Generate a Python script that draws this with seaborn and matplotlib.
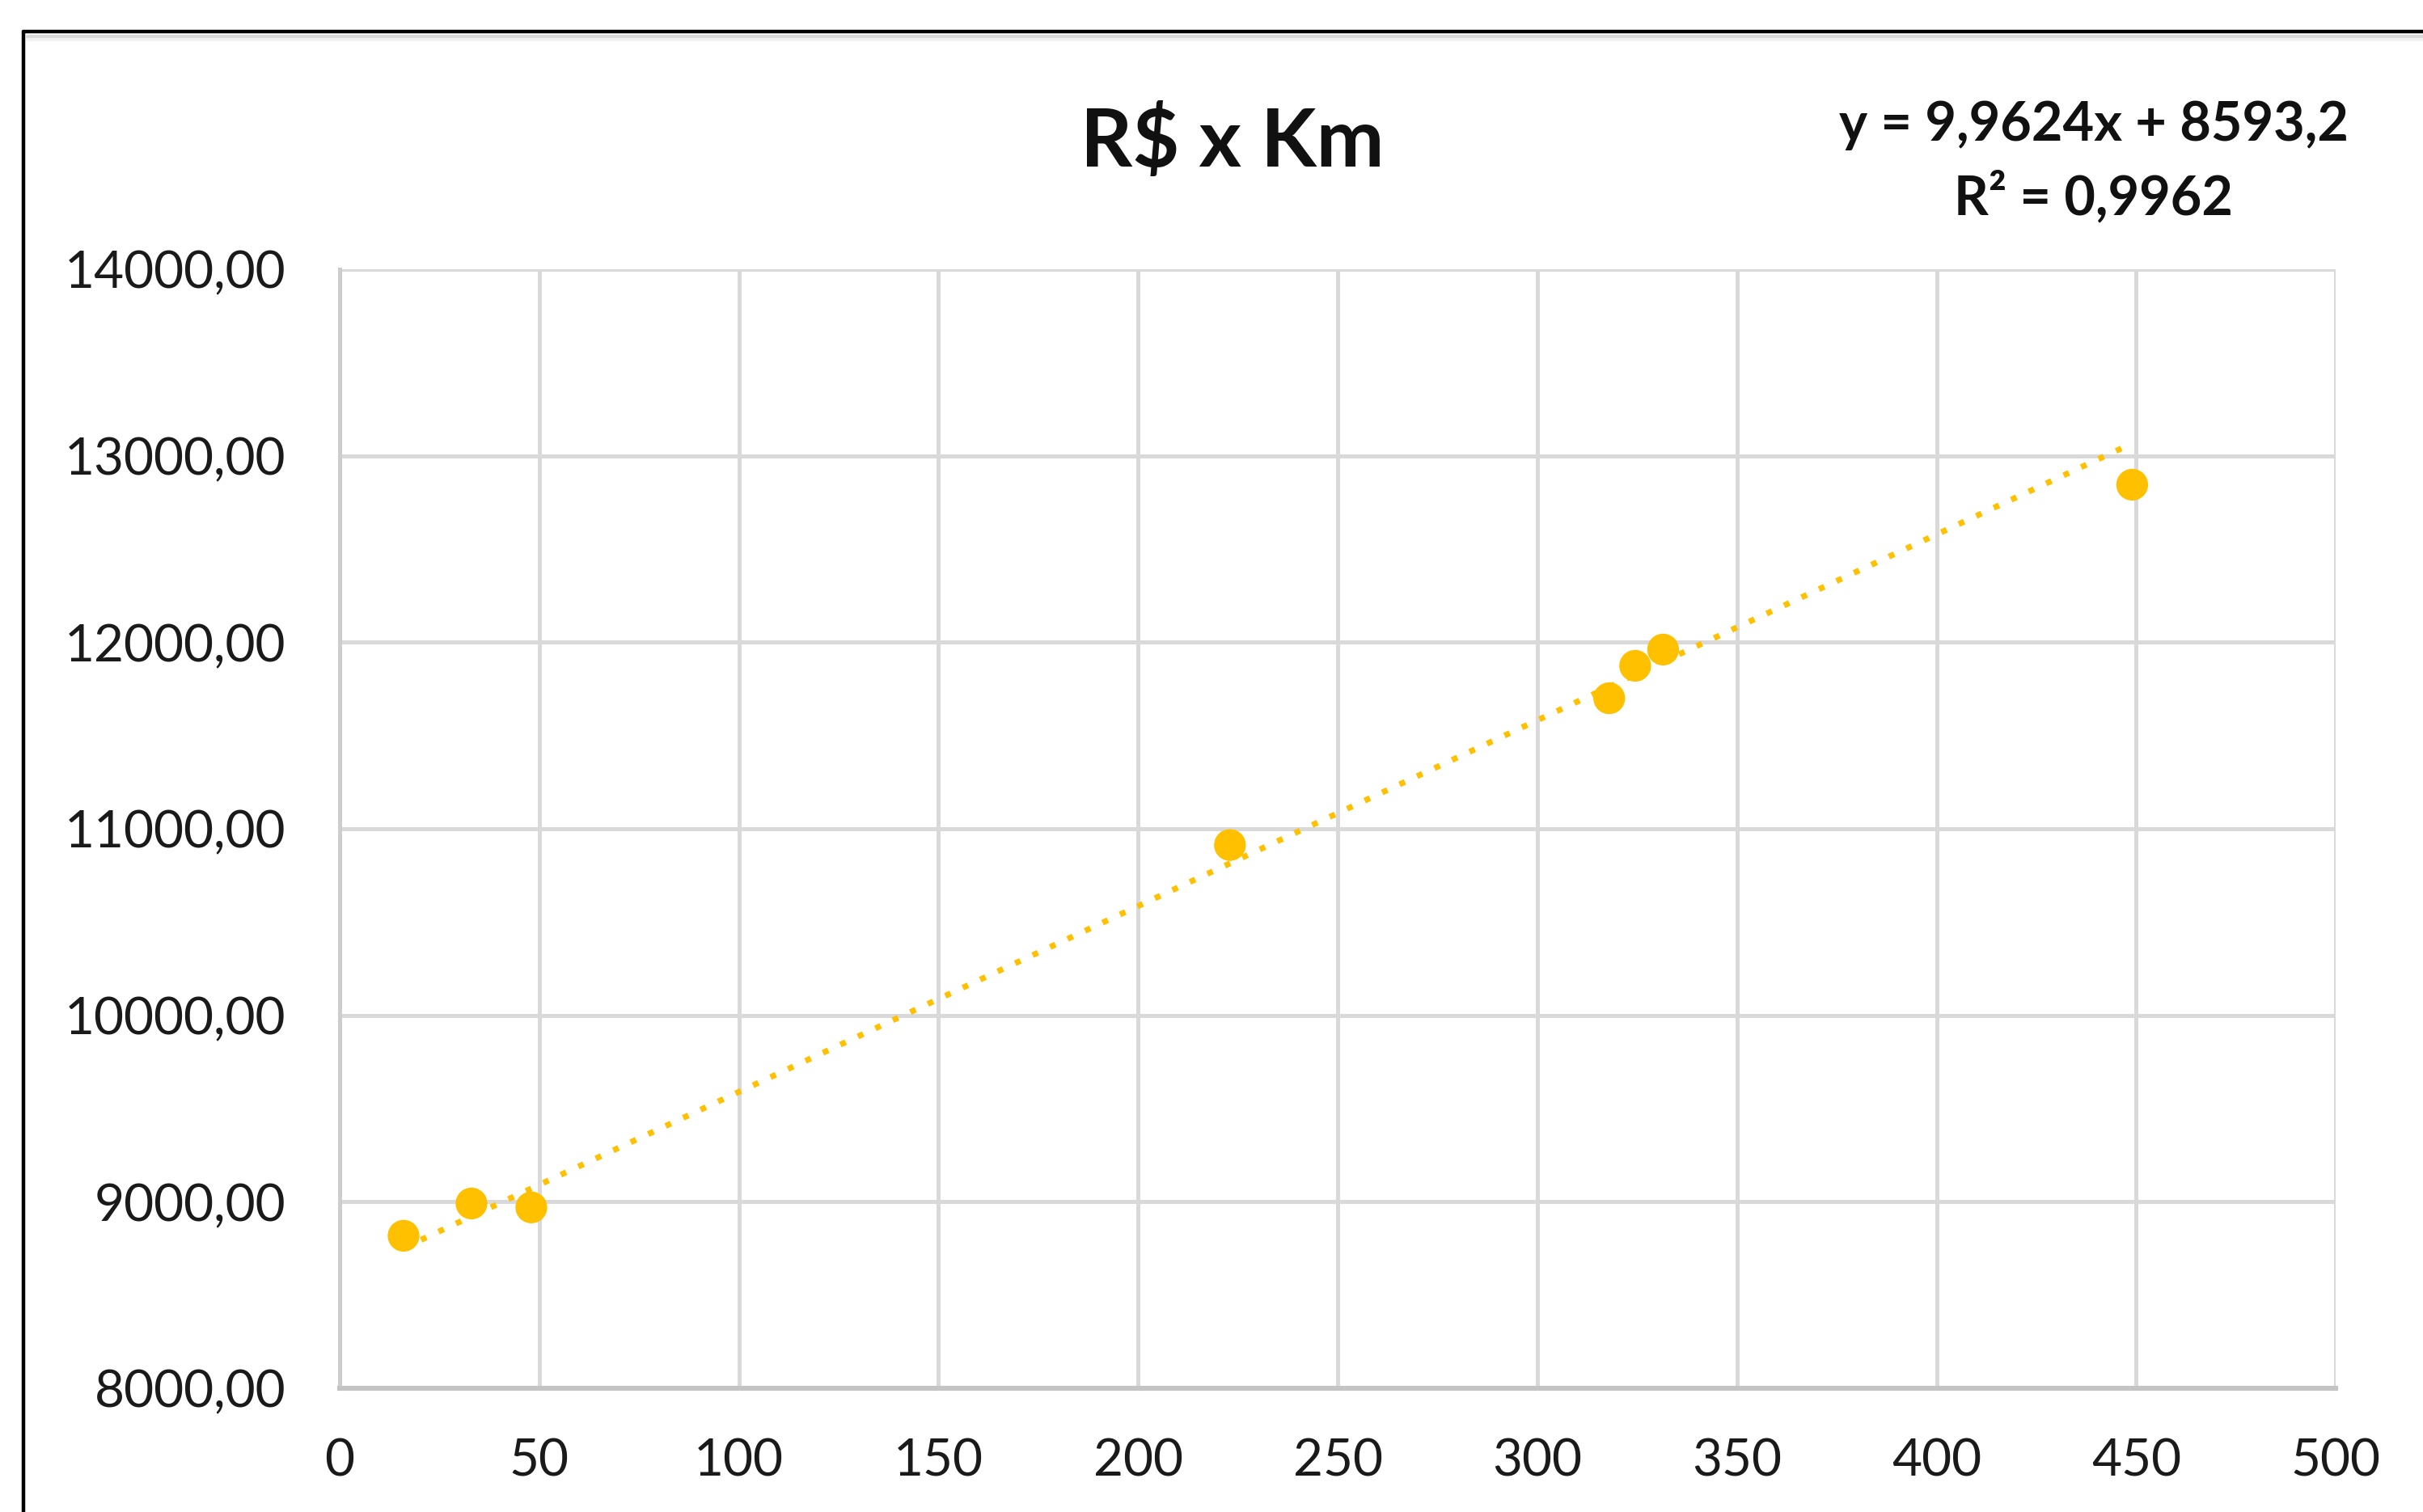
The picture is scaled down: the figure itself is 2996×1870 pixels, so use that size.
import numpy as np
import pandas as pd
import matplotlib.pyplot as plt
import seaborn as sns
from matplotlib.lines import Line2D
from matplotlib.ticker import FuncFormatter

# values
km = [16, 33, 48, 223, 318, 324.5, 331.5, 449]
reais = [8818, 8991, 8970, 10913, 11700, 11874, 11961, 12845]

# Excel trendline as printed on the chart
TREND_SLOPE = 9.9624
TREND_INTERCEPT = 8593.2
TREND_LABEL = "y = 9,9624x + 8593,2"
R2_LABEL = "R² = 0,9962"
TITLE = "R$ x Km"

x_ticks = [0, 50, 100, 150, 200, 250, 300, 350, 400, 450, 500]
y_ticks = [8000, 9000, 10000, 11000, 12000, 13000, 14000]

GOLD = "#FFC000"
GRID = "#D9D9D9"

sns.set_theme(style="whitegrid")
plt.rcParams['font.family'] = ['Lato', 'DejaVu Sans']

df = pd.DataFrame({"km": km, "reais": reais})
trend_x = np.array([min(km), max(km)])
trend_df = pd.DataFrame({"km": trend_x, "reais": TREND_INTERCEPT + TREND_SLOPE * trend_x})

fig = plt.figure(figsize=(14.98, 9.35), dpi=200)
fig.patch.set_facecolor("white")
ax = fig.add_axes([0.1402, 0.0818, 0.8238, 0.7401])
ax.set_facecolor("white")

sns.lineplot(data=trend_df, x="km", y="reais", ax=ax, color=GOLD, lw=2.6,
             linestyle=(0, (1, 2.3)), zorder=3)
sns.scatterplot(data=df, x="km", y="reais", ax=ax, color=GOLD, s=200,
                edgecolor="none", linewidth=0, zorder=4)

ax.set_xlim(0, 500)
ax.set_ylim(8000, 14000)
ax.set_xticks(x_ticks)
ax.set_yticks(y_ticks)
ax.yaxis.set_major_formatter(FuncFormatter(lambda v, p: f"{v:.2f}".replace(".", ",")))
ax.set_xlabel("")
ax.set_ylabel("")

ax.grid(True, color=GRID, lw=1.8)
ax.tick_params(axis="both", length=0, labelsize=23, labelcolor="#1a1a1a")
ax.tick_params(axis="y", pad=24)
ax.tick_params(axis="x", pad=22)

for side in ["top", "right"]:
    ax.spines[side].set_visible(False)
ax.spines["bottom"].set_color("#C4C4C4")
ax.spines["bottom"].set_linewidth(2.2)
ax.spines["left"].set_color("#CDCDCD")
ax.spines["left"].set_linewidth(1.8)

# title and trendline label
fig.text(0.5085, 0.906, TITLE, ha="center", va="center", fontsize=36,
         fontweight="bold", color="#111111")
fig.text(0.864, 0.917, TREND_LABEL, ha="center", va="center", fontsize=24,
         fontweight="bold", color="#111111")
fig.text(0.864, 0.869, R2_LABEL, ha="center", va="center", fontsize=24,
         fontweight="bold", color="#111111")

# chart frame (cropped screenshot border)
fig.add_artist(Line2D([0.0097, 1.0], [0.9791, 0.9791], color="black", lw=1.6,
                      transform=fig.transFigure))
fig.add_artist(Line2D([0.0097, 0.0097], [0.0, 0.9791], color="black", lw=1.6,
                      transform=fig.transFigure))
fig.add_artist(Line2D([0.0113, 1.0], [0.9762, 0.9762], color=GRID, lw=1.8,
                      transform=fig.transFigure))
fig.add_artist(Line2D([0.0113, 1.0], [0.9738, 0.9738], color="#F2F2F2", lw=1.4,
                      transform=fig.transFigure))

fig.savefig("out.png", dpi=200)
